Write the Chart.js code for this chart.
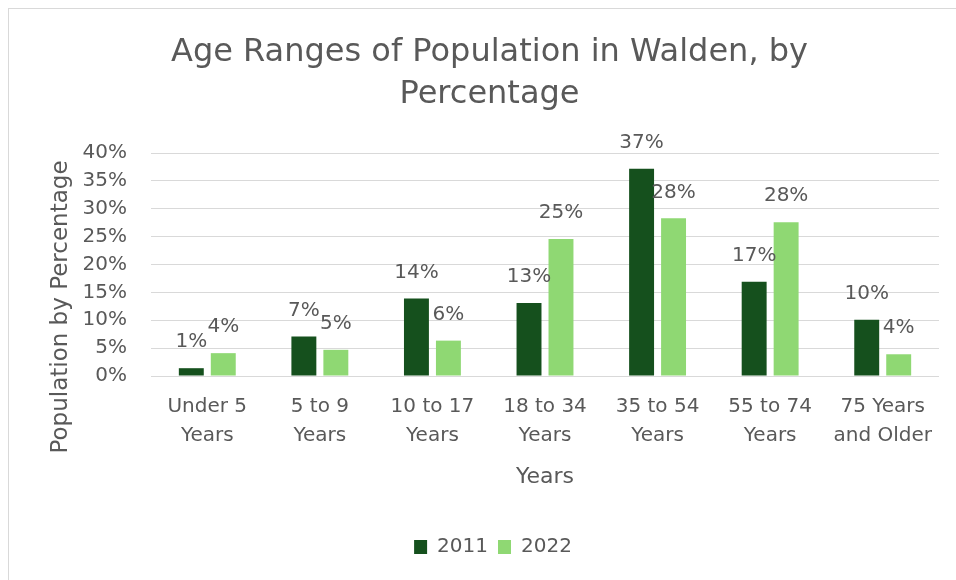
<!DOCTYPE html>
<html>
<head>
<meta charset="utf-8">
<script src="https://cdn.jsdelivr.net/npm/chart.js@4/dist/chart.umd.min.js"></script>
<style>
  html, body { margin: 0; padding: 0; background: #fff; }
  #wrap { position: relative; width: 956px; height: 580px; overflow: hidden; }
  #frame { position: absolute; left: 8px; top: 8px; width: 1000px; height: 1000px;
           border-left: 1px solid #d9d9d9; border-top: 1px solid #d9d9d9; }
  canvas { position: absolute; left: 0; top: 0; }
</style>
</head>
<body>
<div id="wrap">
  <div id="frame"></div>
  <canvas id="chart" width="956" height="580"></canvas>
</div>
<script>
  const ageRanges = [
    ['Under 5', 'Years'],
    ['5 to 9', 'Years'],
    ['10 to 17', 'Years'],
    ['18 to 34', 'Years'],
    ['35 to 54', 'Years'],
    ['55 to 74', 'Years'],
    ['75 Years', 'and Older']
  ];
  const pct2011 = [1.4, 7.1, 13.9, 13.1, 37.2, 16.9, 10.1];
  const pct2022 = [4.1, 4.7, 6.35, 24.6, 28.3, 27.6, 3.9];
  const yTicks = [0, 5, 10, 15, 20, 25, 30, 35, 40];

  const FONT = '"DejaVu Sans", sans-serif';
  const GREY = '#595959';

  // y axis title, placed like Excel does (centred on plot + category labels)
  const yTitle = {
    id: 'yTitle',
    afterDraw(chart) {
      const ctx = chart.ctx;
      ctx.save();
      ctx.translate(61, 307);
      ctx.rotate(-Math.PI / 2);
      ctx.font = '23px ' + FONT;
      ctx.fillStyle = GREY;
      ctx.textAlign = 'center';
      ctx.textBaseline = 'middle';
      ctx.fillText('Population by Percentage', 0, 0);
      ctx.restore();
    }
  };

  // value labels above the bars
  const barLabels = {
    id: 'barLabels',
    afterDatasetsDraw(chart) {
      const ctx = chart.ctx;
      ctx.save();
      ctx.font = '20px ' + FONT;
      ctx.fillStyle = GREY;
      ctx.textAlign = 'center';
      ctx.textBaseline = 'middle';
      chart.data.datasets.forEach((ds, i) => {
        chart.getDatasetMeta(i).data.forEach((bar, j) => {
          ctx.fillText(Math.round(ds.data[j]) + '%', bar.x, bar.y - 26);
        });
      });
      ctx.restore();
    }
  };

  // legend sits a little right of the title centre in the original
  const legendNudge = {
    id: 'legendNudge',
    afterLayout(chart) {
      chart.legend.left += 3.5;
      chart.legend.right += 3.5;
    }
  };

  new Chart(document.getElementById('chart'), {
    type: 'bar',
    data: {
      labels: ageRanges,
      datasets: [
        { label: '2011', data: pct2011, backgroundColor: '#15501d' },
        { label: '2022', data: pct2022, backgroundColor: '#8fd873' }
      ]
    },
    options: {
      responsive: false,
      animation: false,
      categoryPercentage: 0.568,
      barPercentage: 0.78,
      layout: { padding: { left: 40, right: 17, top: 0, bottom: 13 } },
      plugins: {
        title: {
          display: true,
          text: ['Age Ranges of Population in Walden, by', 'Percentage'],
          color: GREY,
          font: { family: FONT, size: 32, weight: 'normal', lineHeight: 1.33 },
          padding: { top: 31, bottom: 37 }
        },
        legend: {
          position: 'bottom',
          labels: {
            color: GREY,
            font: { family: FONT, size: 20 },
            boxWidth: 13,
            boxHeight: 14,
            padding: 10
          }
        },
        tooltip: { enabled: false }
      },
      scales: {
        x: {
          grid: { display: false, drawTicks: false },
          border: { display: false },
          ticks: {
            color: GREY,
            font: { family: FONT, size: 20, lineHeight: 1.45 },
            padding: 16.5,
            maxRotation: 0,
            autoSkip: false
          },
          title: {
            display: true,
            text: 'Years',
            color: GREY,
            font: { family: FONT, size: 22 },
            padding: { top: 0, bottom: 37 }
          },
          afterFit(scale) { scale.height = 151; }
        },
        y: {
          min: 0,
          max: 40,
          afterBuildTicks(scale) { scale.ticks = yTicks.map(v => ({ value: v })); },
          grid: { color: '#d9d9d9', lineWidth: 1, drawTicks: false },
          border: { display: false },
          ticks: {
            color: GREY,
            font: { family: FONT, size: 20 },
            padding: 24,
            callback: v => v + '%'
          },
          afterFit(scale) { scale.width = 111; }
        }
      }
    },
    plugins: [yTitle, barLabels, legendNudge]
  });
</script>
</body>
</html>
